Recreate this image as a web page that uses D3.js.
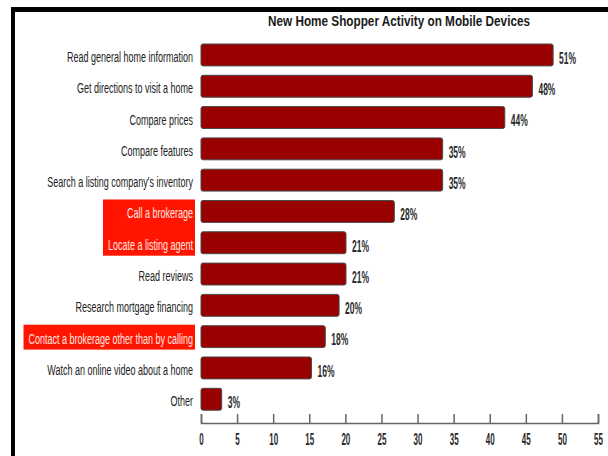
<!DOCTYPE html>
<html>
<head>
<meta charset="utf-8">
<script src="https://cdn.jsdelivr.net/npm/d3@7"></script>
<style>
  body { margin: 0; background: #fff; }
  svg text { font-family: "Liberation Sans", Arial, sans-serif; }
</style>
</head>
<body>
<div id="chart"></div>
<script>
// chart data
var categories = [
    "Read general home information",
    "Get directions to visit a home",
    "Compare prices",
    "Compare features",
    "Search a listing company's inventory",
    "Call a brokerage",
    "Locate a listing agent",
    "Read reviews",
    "Research mortgage financing",
    "Contact a brokerage other than by calling",
    "Watch an online video about a home",
    "Other"
];
var values = [51, 48, 44, 35, 35, 28, 21, 21, 20, 18, 16, 3];
var axisTicks = [0, 5, 10, 15, 20, 25, 30, 35, 40, 45, 50, 55];
// groups of labels shown on a red background
var highlightGroups = [
    ["Call a brokerage", "Locate a listing agent"],
    ["Contact a brokerage other than by calling"]
];
var title = "New Home Shopper Activity on Mobile Devices";

var svgWidth = 608;
var svgHeight = 456;
var left = 201;
var right = 598;

// the original uses a condensed typeface, so squeeze glyphs horizontally
function squeeze(sel, factor) {
    sel.each(function() {
        var len = this.getComputedTextLength();
        d3.select(this)
            .attr("textLength", len * factor)
            .attr("lengthAdjust", "spacingAndGlyphs");
    });
}

var svg = d3.select("#chart")
    .append("svg")
    .attr("width", svgWidth)
    .attr("height", svgHeight);

// black frame at top and left
svg.append("rect").attr("x", 11).attr("y", 7).attr("width", svgWidth - 11).attr("height", 5).attr("fill", "#000");
svg.append("rect").attr("x", 11).attr("y", 7).attr("width", 4).attr("height", svgHeight).attr("fill", "#000");

// axis scale and (slightly compressed) bar scale, as in the original graphic
var xAxisScale = d3.scaleLinear().domain([0, 55]).range([left, right]);
var xBar = d3.scaleLinear().domain([0, 57.5]).range([left, right]);

var y = d3.scaleBand()
    .domain(categories)
    .range([39.3, 414.9])
    .paddingInner(0.3)
    .paddingOuter(0.15);

// title
var titleText = svg.append("text")
    .attr("x", 268)
    .attr("y", 26)
    .attr("font-size", "15.5px")
    .attr("font-weight", "bold")
    .attr("fill", "#1a1a1a")
    .text(title);
squeeze(titleText, 262 / titleText.node().getComputedTextLength());

// red highlight boxes behind labels
var labelRight = 193;
var boxes = svg.append("g");

// category labels
var labels = svg.append("g").selectAll("text")
    .data(categories)
    .enter().append("text")
    .attr("x", labelRight)
    .attr("y", d => y(d) + y.bandwidth() / 2 + 2)
    .attr("dy", "0.36em")
    .attr("text-anchor", "end")
    .attr("font-size", "14px")
    .attr("fill", d => highlightGroups.some(g => g.includes(d)) ? "#ffe8e0" : "#222")
    .text(d => d);
squeeze(labels, 126 / labels.node().getComputedTextLength());

highlightGroups.forEach(function(group) {
    var minX = labelRight;
    labels.filter(d => group.includes(d)).each(function() {
        var b = this.getBBox();
        minX = Math.min(minX, b.x);
    });
    var top = y(group[0]) - 1;
    var bottom = y(group[group.length - 1]) + y.bandwidth() + 2;
    boxes.append("rect")
        .attr("x", minX - 5)
        .attr("y", top)
        .attr("width", 195 - (minX - 5))
        .attr("height", bottom - top)
        .attr("fill", "#ff1500");
});

// bars
svg.append("g").selectAll("rect")
    .data(values)
    .enter().append("rect")
    .attr("x", left)
    .attr("y", (d, i) => y(categories[i]))
    .attr("width", d => xBar(d) - left)
    .attr("height", y.bandwidth())
    .attr("rx", 2)
    .attr("fill", "#990000")
    .attr("stroke", "#4a4a4a")
    .attr("stroke-width", 1);

// value labels
var valueLabels = svg.append("g").selectAll("text")
    .data(values)
    .enter().append("text")
    .attr("x", d => xBar(d) + 6)
    .attr("y", (d, i) => y(categories[i]) + y.bandwidth() / 2 + 3)
    .attr("dy", "0.36em")
    .attr("font-size", "16px")
    .attr("font-weight", "bold")
    .attr("fill", "#2a2a2a")
    .text(d => d + "%");
squeeze(valueLabels, 17 / valueLabels.node().getComputedTextLength());

// bottom axis with ticks pointing up
var axisY = 423;
var xAxis = d3.axisBottom(xAxisScale)
    .tickValues(axisTicks)
    .tickSizeInner(-9)
    .tickSizeOuter(-9)
    .tickPadding(11)
    .tickFormat(d3.format("d"));

var axisG = svg.append("g")
    .attr("transform", `translate(0, ${axisY})`)
    .call(xAxis);

axisG.select(".domain").attr("stroke", "#666").attr("stroke-width", 1.5);
axisG.selectAll(".tick line").attr("stroke", "#666").attr("stroke-width", 1.5);
var tickText = axisG.selectAll(".tick text")
    .attr("font-family", "'Liberation Sans', Arial, sans-serif")
    .attr("font-size", "16px")
    .attr("font-weight", "bold")
    .attr("fill", "#2a2a2a");
squeeze(tickText, 0.5);
</script>
</body>
</html>
